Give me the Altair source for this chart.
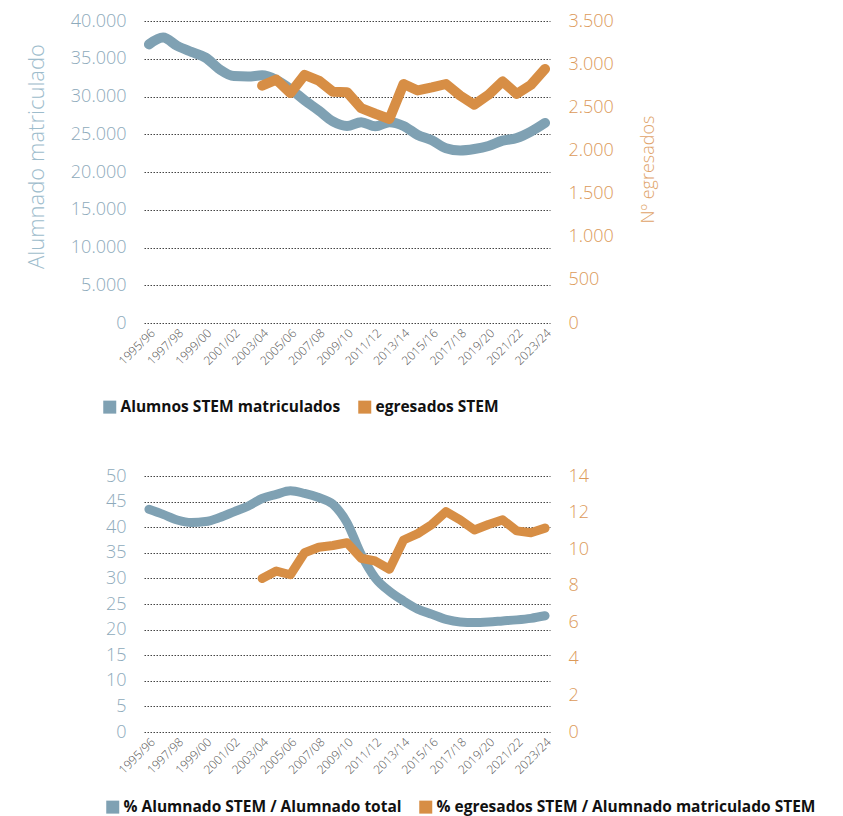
import altair as alt
import pandas as pd

years = ["1995/96", "1996/97", "1997/98", "1998/99", "1999/00", "2000/01", "2001/02",
         "2002/03", "2003/04", "2004/05", "2005/06", "2006/07", "2007/08", "2008/09",
         "2009/10", "2010/11", "2011/12", "2012/13", "2013/14", "2014/15", "2015/16",
         "2016/17", "2017/18", "2018/19", "2019/20", "2020/21", "2021/22", "2022/23",
         "2023/24"]

alumnos = [36900, 37800, 36700, 35900, 35150, 33600, 32700, 32650, 32800, 32200,
           31000, 29500, 28150, 26700, 26100, 26600, 26050, 26600, 26100, 24900,
           24200, 23150, 22850, 23050, 23450, 24150, 24500, 25350, 26500]

egresados = [None] * 8 + [2750, 2820, 2665, 2875, 2810, 2680, 2675, 2490, 2425, 2365,
                          2770, 2695, 2730, 2770, 2635, 2530, 2645, 2800, 2655, 2760, 2945]

pct_alumnado = [43.5, 42.5, 41.4, 40.9, 41.1, 41.9, 43.0, 44.1, 45.6, 46.4, 47.1, 46.6,
                45.8, 44.5, 40.9, 34.7, 30.1, 27.5, 25.6, 24.0, 23.0, 22.0, 21.5, 21.4,
                21.5, 21.7, 21.9, 22.2, 22.7]

pct_egresados = [None] * 8 + [8.4, 8.8, 8.6, 9.8, 10.1, 10.2, 10.35, 9.5, 9.35, 8.9,
                              10.5, 10.85, 11.35, 12.05, 11.6, 11.05, 11.35, 11.6, 11.0,
                              10.9, 11.15]

names_top = ["Alumnos STEM matriculados", "egresados STEM"]
names_bottom = ["% Alumnado STEM / Alumnado total",
                "% egresados STEM / Alumnado matriculado STEM"]

left_ticks_top = [0, 5000, 10000, 15000, 20000, 25000, 30000, 35000, 40000]
right_ticks_top = [0, 500, 1000, 1500, 2000, 2500, 3000, 3500]
left_ticks_bottom = [0, 5, 10, 15, 20, 25, 30, 35, 40, 45, 50]
right_ticks_bottom = [0, 2, 4, 6, 8, 10, 12, 14]

BLUE = "#7fa1b3"
ORANGE = "#d78e45"
LEFT_TXT = "#8eaabb"
RIGHT_TXT = "#dc9a5a"
FONT = "Open Sans"

THOUSANDS = "replace(format(datum.value, ','), ',', '.')"


def panel(left_vals, right_vals, names, lticks, rticks, height, stroke,
          legend_x, legend_y, titles=None, fmt=False):
    df_l = pd.DataFrame({"year": years, "v": left_vals, "serie": names[0]})
    df_r = pd.DataFrame({"year": years, "v": right_vals, "serie": names[1]}).dropna()

    x = alt.X("year:N", sort=years,
              scale=alt.Scale(type="point", padding=0.35),
              axis=alt.Axis(values=years[::2], labelAngle=-45, title=None,
                            domain=False, ticks=False, grid=False,
                            labelFont=FONT, labelFontSize=12, labelColor="#555555",
                            labelFontWeight=300, labelPadding=4))

    color = alt.Color(
        "serie:N",
        scale=alt.Scale(domain=names, range=[BLUE, ORANGE]),
        legend=alt.Legend(orient="none", legendX=legend_x, legendY=legend_y,
                          direction="horizontal", title=None, symbolType="square",
                          symbolSize=25, symbolStrokeWidth=8, labelFont=FONT,
                          labelFontSize=15.5, labelFontWeight="bold", labelLimit=0,
                          labelColor="#111111", columnPadding=5, labelOffset=3,
                          padding=0),
    )

    left_axis = dict(values=lticks, orient="left", grid=True, gridDash=[1.5, 1.5],
                     gridColor="#444444", gridWidth=1, domain=False, ticks=False,
                     labelFont=FONT, labelFontSize=18, labelFontWeight=300,
                     labelColor=LEFT_TXT, labelPadding=18)
    right_axis = dict(values=rticks, orient="right", grid=False, domain=False,
                      ticks=False, labelFont=FONT, labelFontSize=18,
                      labelFontWeight=300, labelColor=RIGHT_TXT, labelPadding=18)
    if titles:
        left_axis.update(title=titles[0], titleFont=FONT, titleFontSize=22,
                         titleFontWeight=300, titleColor="#9dbccc", titlePadding=22,
                         titleY=135)
        right_axis.update(title=titles[1], titleFont=FONT, titleFontSize=18,
                          titleFontWeight=300, titleColor="#e0a36a", titlePadding=44,
                          titleAngle=270, titleY=148)
    else:
        left_axis.update(title=None)
        right_axis.update(title=None)
    if fmt:
        left_axis["labelExpr"] = THOUSANDS
        right_axis["labelExpr"] = THOUSANDS

    blue = alt.Chart(df_l).mark_line(strokeWidth=stroke, strokeCap="round",
                                     strokeJoin="round", interpolate="monotone").encode(
        x=x,
        y=alt.Y("v:Q", scale=alt.Scale(domain=[lticks[0], lticks[-1]], nice=False),
                axis=alt.Axis(**left_axis)),
        color=color,
    )
    orange = alt.Chart(df_r).mark_line(strokeWidth=stroke, strokeCap="round",
                                       strokeJoin="round").encode(
        x=x,
        y=alt.Y("v:Q", scale=alt.Scale(domain=[rticks[0], rticks[-1]], nice=False),
                axis=alt.Axis(**right_axis)),
        color=color,
    )
    return alt.layer(blue, orange).resolve_scale(y="independent").properties(
        width=406, height=height)


top = panel(alumnos, egresados, names_top, left_ticks_top, right_ticks_top, 302, 10,
            -42, 378, titles=["Alumnado matriculado", "Nº egresados"], fmt=True)
bottom = panel(pct_alumnado, pct_egresados, names_bottom, left_ticks_bottom,
               right_ticks_bottom, 256, 9, -39, 323)

chart = alt.vconcat(top, bottom, spacing=41).resolve_scale(
    color="independent").resolve_legend(color="independent").properties(
    padding={"left": 17, "top": 4, "right": 5, "bottom": 0},
    background="white",
).configure_view(stroke=None)

chart.save("out.html", embed_options={"renderer": "svg", "actions": False})
